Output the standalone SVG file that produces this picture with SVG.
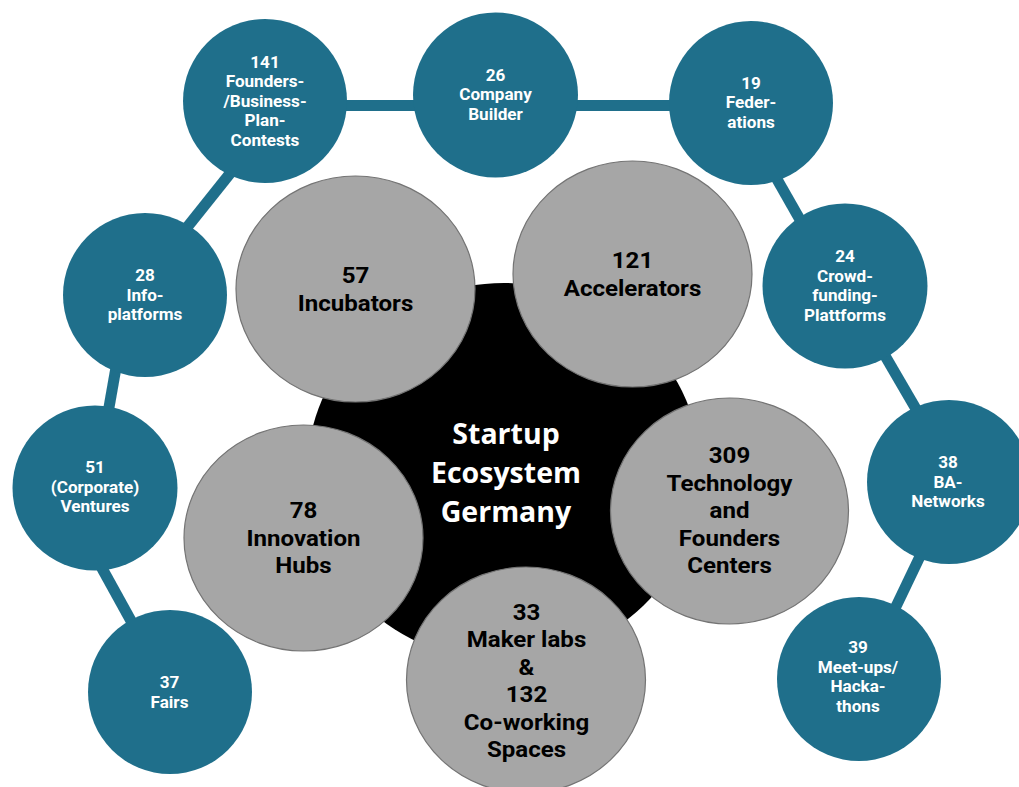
<svg xmlns="http://www.w3.org/2000/svg" width="1019" height="787" viewBox="0 0 1019 787">
  <style>
    .link { stroke: #1f6f8b; stroke-width: 11; fill: none; }
    .sat { fill: #1f6f8b; }
    .sat-t { font-family: Roboto, "Liberation Sans", sans-serif; font-weight: 700; font-size: 16px; fill: #ffffff; text-anchor: middle; }
    .core { fill: #000000; }
    .core-t { font-family: "Open Sans", "Liberation Sans", sans-serif; font-weight: 700; font-size: 28.5px; fill: #ffffff; text-anchor: middle; }
    .pillar { fill: #a6a6a6; stroke: #747474; stroke-width: 1.2; }
    .pillar-t { font-family: Roboto, "Liberation Sans", sans-serif; font-weight: 700; font-size: 22.5px; fill: #000000; text-anchor: middle; }
  </style>
  <rect width="1019" height="787" fill="#ffffff"/>

  <!-- ring of connectors between the outer nodes -->
  <g id="connectors">
    <line class="link" x1="265" y1="105.5" x2="751" y2="105.5"/>
    <line class="link" x1="240" y1="161" x2="165" y2="255"/>
    <line class="link" x1="120" y1="345" x2="105" y2="430"/>
    <line class="link" x1="87.5" y1="542" x2="140.5" y2="638"/>
    <line class="link" x1="766" y1="160" x2="815" y2="246"/>
    <line class="link" x1="870" y1="330" x2="930" y2="433"/>
    <line class="link" x1="935" y1="525" x2="880" y2="640"/>
  </g>

  <!-- outer nodes (labels slightly widened horizontally) -->
  <g id="founders-contests">
    <circle class="sat" cx="265" cy="101" r="82"/>
    <text class="sat-t" transform="translate(265 0) scale(1.07 1)"><tspan x="0" y="68">141</tspan><tspan x="0" y="87.5">Founders-</tspan><tspan x="0" y="107">/Business-</tspan><tspan x="0" y="126.5">Plan-</tspan><tspan x="0" y="146">Contests</tspan></text>
  </g>
  <g id="company-builder">
    <circle class="sat" cx="495.5" cy="95" r="82.5"/>
    <text class="sat-t" transform="translate(495.5 0) scale(1.07 1)"><tspan x="0" y="81">26</tspan><tspan x="0" y="100.5">Company</tspan><tspan x="0" y="120">Builder</tspan></text>
  </g>
  <g id="federations">
    <circle class="sat" cx="751" cy="103" r="82"/>
    <text class="sat-t" transform="translate(751 0) scale(1.07 1)"><tspan x="0" y="89">19</tspan><tspan x="0" y="108.5">Feder-</tspan><tspan x="0" y="128">ations</tspan></text>
  </g>
  <g id="crowdfunding">
    <circle class="sat" cx="845" cy="286" r="82.5"/>
    <text class="sat-t" transform="translate(845 0) scale(1.07 1)"><tspan x="0" y="262.5">24</tspan><tspan x="0" y="282">Crowd-</tspan><tspan x="0" y="301.5">funding-</tspan><tspan x="0" y="321">Plattforms</tspan></text>
  </g>
  <g id="ba-networks">
    <circle class="sat" cx="949" cy="482" r="82"/>
    <text class="sat-t" transform="translate(948 0) scale(1.07 1)"><tspan x="0" y="468.5">38</tspan><tspan x="0" y="488">BA-</tspan><tspan x="0" y="507.5">Networks</tspan></text>
  </g>
  <g id="meetups">
    <circle class="sat" cx="859" cy="679" r="82"/>
    <text class="sat-t" transform="translate(858 0) scale(1.07 1)"><tspan x="0" y="653.5">39</tspan><tspan x="0" y="673">Meet-ups/</tspan><tspan x="0" y="692.5">Hacka-</tspan><tspan x="0" y="712">thons</tspan></text>
  </g>
  <g id="info-platforms">
    <circle class="sat" cx="145" cy="295" r="82"/>
    <text class="sat-t" transform="translate(145 0) scale(1.07 1)"><tspan x="0" y="281.5">28</tspan><tspan x="0" y="301">Info-</tspan><tspan x="0" y="320.5">platforms</tspan></text>
  </g>
  <g id="corporate-ventures">
    <circle class="sat" cx="95" cy="488" r="82.5"/>
    <text class="sat-t" transform="translate(95 0) scale(1.07 1)"><tspan x="0" y="473.5">51</tspan><tspan x="0" y="493">(Corporate)</tspan><tspan x="0" y="512.5">Ventures</tspan></text>
  </g>
  <g id="fairs">
    <circle class="sat" cx="170" cy="692" r="82"/>
    <text class="sat-t" transform="translate(169.5 0) scale(1.07 1)"><tspan x="0" y="688.5">37</tspan><tspan x="0" y="708">Fairs</tspan></text>
  </g>

  <!-- central hub -->
  <g id="ecosystem">
    <ellipse class="core" cx="504" cy="472" rx="197" ry="189"/>
    <text class="core-t"><tspan x="506" y="443.5">Startup</tspan><tspan x="506" y="482.5">Ecosystem</tspan><tspan x="506" y="521.5">Germany</tspan></text>
  </g>

  <!-- inner nodes around the hub -->
  <g id="incubators">
    <ellipse class="pillar" cx="355.5" cy="289" rx="119.5" ry="113"/>
    <text class="pillar-t" transform="translate(355.5 0) scale(1.07 1)"><tspan x="0" y="283.5">57</tspan><tspan x="0" y="311">Incubators</tspan></text>
  </g>
  <g id="accelerators">
    <ellipse class="pillar" cx="632.5" cy="274" rx="119.5" ry="113"/>
    <text class="pillar-t" transform="translate(632.5 0) scale(1.07 1)"><tspan x="0" y="268.5">121</tspan><tspan x="0" y="296">Accelerators</tspan></text>
  </g>
  <g id="innovation-hubs">
    <ellipse class="pillar" cx="303.5" cy="538" rx="119.5" ry="113"/>
    <text class="pillar-t" transform="translate(303.5 0) scale(1.07 1)"><tspan x="0" y="518.5">78</tspan><tspan x="0" y="546.5">Innovation</tspan><tspan x="0" y="573.5">Hubs</tspan></text>
  </g>
  <g id="technology-centers">
    <ellipse class="pillar" cx="729.5" cy="511" rx="119" ry="113"/>
    <text class="pillar-t" transform="translate(729.5 0) scale(1.07 1)"><tspan x="0" y="463.5">309</tspan><tspan x="0" y="491">Technology</tspan><tspan x="0" y="518.5">and</tspan><tspan x="0" y="546">Founders</tspan><tspan x="0" y="573.5">Centers</tspan></text>
  </g>
  <g id="maker-labs">
    <ellipse class="pillar" cx="526" cy="680" rx="119.5" ry="113"/>
    <text class="pillar-t" transform="translate(526.5 0) scale(1.07 1)"><tspan x="0" y="620">33</tspan><tspan x="0" y="647.5">Maker labs</tspan><tspan x="0" y="675">&amp;</tspan><tspan x="0" y="702.5">132</tspan><tspan x="0" y="730.5">Co-working</tspan><tspan x="0" y="757.5">Spaces</tspan></text>
  </g>
</svg>
